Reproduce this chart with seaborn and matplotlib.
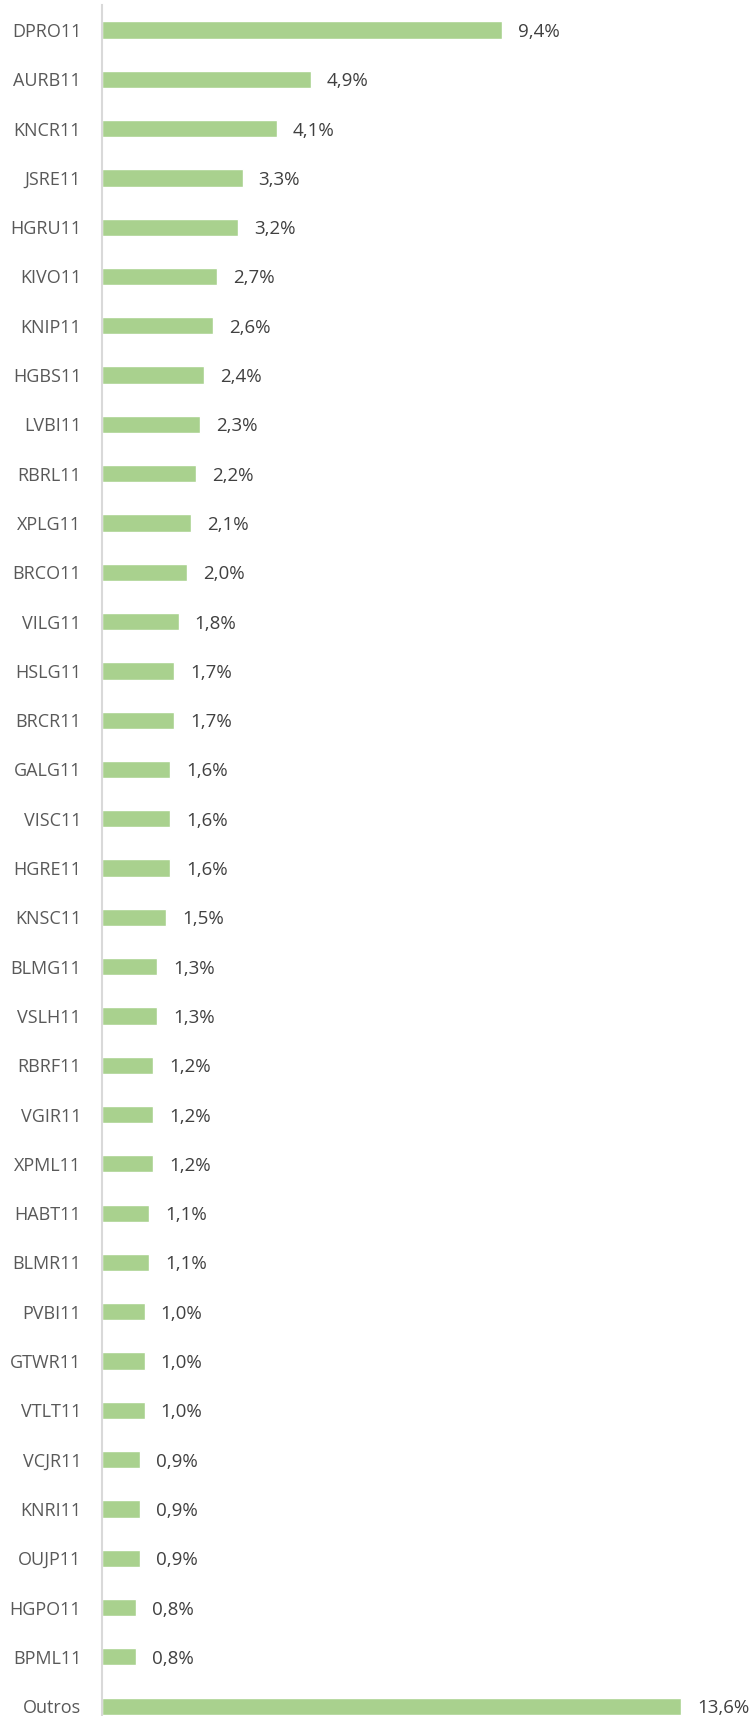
import matplotlib
matplotlib.use("Agg")
import matplotlib.pyplot as plt
import seaborn as sns
import pandas as pd

# Tickers and their share (%)
tickers = ["DPRO11", "AURB11", "KNCR11", "JSRE11", "HGRU11", "KIVO11", "KNIP11",
           "HGBS11", "LVBI11", "RBRL11", "XPLG11", "BRCO11", "VILG11", "HSLG11",
           "BRCR11", "GALG11", "VISC11", "HGRE11", "KNSC11", "BLMG11", "VSLH11",
           "RBRF11", "VGIR11", "XPML11", "HABT11", "BLMR11", "PVBI11", "GTWR11",
           "VTLT11", "VCJR11", "KNRI11", "OUJP11", "HGPO11", "BPML11", "Outros"]
shares = [9.4, 4.9, 4.1, 3.3, 3.2, 2.7, 2.6,
          2.4, 2.3, 2.2, 2.1, 2.0, 1.8, 1.7,
          1.7, 1.6, 1.6, 1.6, 1.5, 1.3, 1.3,
          1.2, 1.2, 1.2, 1.1, 1.1, 1.0, 1.0,
          1.0, 0.9, 0.9, 0.9, 0.8, 0.8, 13.6]

df = pd.DataFrame({"ticker": tickers, "share": shares})

sns.set_style("white")
plt.rcParams["font.family"] = ["Open Sans", "DejaVu Sans"]

fig = plt.figure(figsize=(7.52, 17.16), dpi=100)
ax = fig.add_axes([102 / 752, 0, 1 - 102 / 752, 1711 / 1716])

sns.barplot(data=df, x="share", y="ticker", orient="h", color="#a9d18e",
            width=0.35, saturation=1, ax=ax)

# Value labels
for i, v in enumerate(shares):
    ax.annotate(f"{v:.1f}%".replace(".", ","), xy=(v, i), xytext=(16, -2),
                textcoords="offset pixels", va="center", ha="left",
                fontsize=13.5, color="#404040")

ax.set_xlim(0, (752 - 102) / 42.6)
ax.set_ylim(34.2, -0.507)
ax.set_xlabel("")
ax.set_ylabel("")
ax.set_xticks([])
ax.tick_params(axis="y", length=0, pad=15, labelsize=13, labelcolor="#595959")

for s in ["top", "right", "bottom"]:
    ax.spines[s].set_visible(False)
ax.spines["left"].set_color("#d9d9d9")
ax.spines["left"].set_linewidth(1.5)

fig.savefig("out.png", dpi=100)
